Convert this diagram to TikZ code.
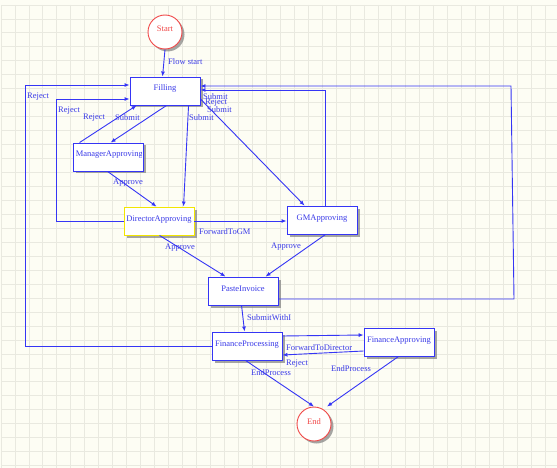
\documentclass[tikz,border=0pt]{standalone}
\usepackage{fontspec}
\setmainfont{Liberation Serif}
\usetikzlibrary{arrows.meta,calc,shadows}
\definecolor{bg}{HTML}{FDFDF4}
\definecolor{gridc}{HTML}{E9E9E0}
\definecolor{flow}{HTML}{3535F5}
\definecolor{txt}{HTML}{3A3AE8}
\definecolor{redc}{HTML}{F04848}
\definecolor{yel}{HTML}{F2E600}
\begin{document}
\begin{tikzpicture}[x=1pt,y=-1pt,
  font=\fontsize{8.5}{10}\selectfont,
  shad/.style={drop shadow={shadow xshift=2.5pt, shadow yshift=-2.5pt, fill=black!50, opacity=0.7}},
  box/.style={draw=flow, line width=0.9pt, fill=white, minimum width=70pt, minimum height=28pt,
    inner sep=0pt, text height=6pt, text depth=6pt, text=txt, shad},
  term/.style={circle, draw=redc, line width=0.9pt, fill=white, minimum size=34pt, inner sep=0pt,
    text=redc, text height=6pt, text depth=6pt, shad},
  conn/.style={draw=flow, line width=0.9pt, -{Latex[length=5pt,width=4pt]}},
  lab/.style={text=txt, anchor=west, inner sep=0pt}
]
\useasboundingbox (0,0) rectangle (557,468);
\fill[bg] (0,0) rectangle (557,468);
\foreach \i in {0,...,39} {
  \draw[gridc, line width=0.9pt] ({15+13.96*\i},5) -- ({15+13.96*\i},468);
}
\foreach \j in {0,...,33} {
  \draw[gridc, line width=0.9pt] (1,{5+13.96*\j}) -- (557,{5+13.96*\j});
}
\draw[gridc, line width=0.9pt] (1,5) -- (1,468);

% nodes
\node[term] (start) at (165,32) {Start};
\node[box] (fill) at (165,91) {Filling};
\node[box] (ma) at (108,157) {};
\begin{scope}
  \clip (ma.south west) rectangle ($(ma.north east)+(-2,0)$);
  \node[lab, text height=6pt, text depth=6pt] (matext) at ($(ma.west)+(3,0)$) {ManagerApproving};
\end{scope}
\node[box, draw=yel] (da) at (159,221) {DirectorApproving};
\node[box] (gm) at (322,220) {GMApproving};
\node[box] (pi) at (243,291) {PasteInvoice};
\node[box] (fp) at (247,346) {FinanceProcessing};
\node[box] (fa) at (399,342) {FinanceApproving};
\node[term] (end) at (314,424) {End};

% connectors
\draw[conn] (start.south) -- ($(fill.north west)+(33,0)$);
\draw[conn] ($(fill.south west)+(37,0)$) -- ($(ma.north west)+(38,0)$);
\draw[conn] ($(ma.north west)+(7,0)$) -- ($(fill.south west)+(7,0)$);
\draw[conn] ($(ma.south west)+(35,0)$) -- ($(da.north west)+(33,0)$);
\draw[conn] (da.west) -- (56,221) -- (56,99) -- ($(fill.west)+(0,8)$);
\draw[conn] (fp.west) -- (25,346) -- (25,85) -- ($(fill.west)+(0,-6)$);
\draw[conn] ($(fill.south west)+(59,0)$) -- ($(da.north west)+(60,0)$);
\draw[conn] ($(fill.east)+(0,8)$) -- ($(gm.north west)+(18,0)$);
\draw[conn] ($(gm.north west)+(39,0)$) |- ($(fill.east)+(0,-1)$);
\draw[conn] ($(pi.east)+(0,8)$) -- (514,299) -- (511,86) -- ($(fill.east)+(0,-5)$);
\draw[conn] (da.east) -- (da.east -| gm.west);
\draw[conn] ($(da.south west)+(36,0)$) -- ($(pi.north west)+(18,0)$);
\draw[conn] ($(gm.south west)+(39,0)$) -- ($(pi.north west)+(58,0)$);
\draw[conn] ($(pi.south west)+(34,0)$) -- ($(fp.north west)+(33,0)$);
\draw[conn] ($(fp.east)+(0,-10)$) -- ($(fa.west)+(0,-7)$);
\draw[conn] ($(fa.west)+(0,9)$) -- ($(fp.east)+(0,9)$);
\draw[conn] ($(fp.south west)+(34,0)$) -- (end.north);
\draw[conn] ($(fa.south west)+(35,0)$) -- ($(end.north)+(13,0)$);

% labels
\node[lab] (l1) at (168,62) {Flow start};
\node[lab] (l2) at (115,118) {Submit};
\node[lab] (l3) at (83,118) {Reject};
\node[lab] (l4) at (113,183) {Approve};
\node[lab] (l5) at (58,111) {Reject};
\node[lab] (l6) at (27,97) {Reject};
\node[lab] (l7) at (189,118) {Submit};
\node[lab] (l8) at (203,97) {Submit};
\node[lab] (l9) at (205,103) {Reject};
\node[lab] (l10) at (207,110) {Submit};
\node[lab] (l11) at (199,232) {ForwardToGM};
\node[lab] (l12) at (165,248) {Approve};
\node[lab] (l13) at (271,247) {Approve};
\node[lab] (l14) at (247,318) {SubmitWithI};
\node[lab] (l15) at (286,348) {ForwardToDirector};
\node[lab] (l16) at (286,364) {Reject};
\node[lab] (l17) at (251,373) {EndProcess};
\node[lab] (l18) at (331,369) {EndProcess};
\end{tikzpicture}
\end{document}
